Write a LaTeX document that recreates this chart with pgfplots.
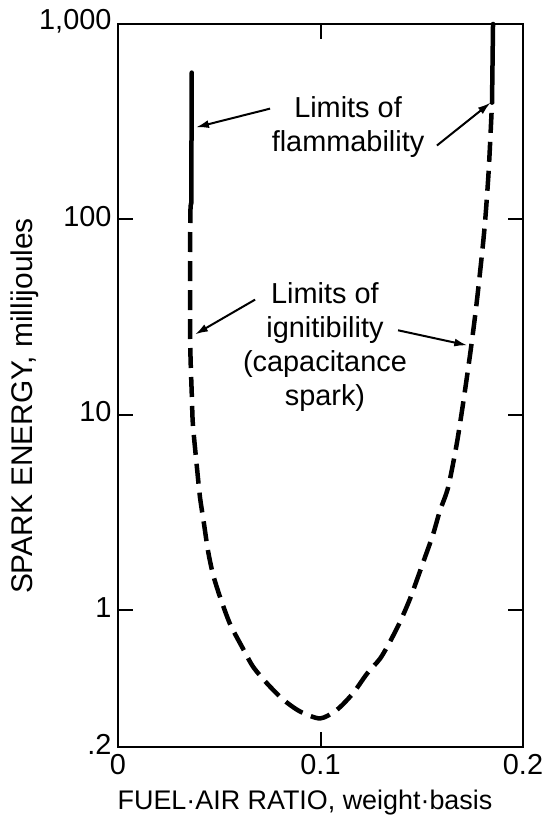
\documentclass[border=0pt]{standalone}
\usepackage{pgfplots}
\pgfplotsset{compat=1.18}
\usepackage{fontspec}
\setmainfont{Liberation Sans}
\usetikzlibrary{arrows.meta}
\newcommand{\bigf}{\fontsize{29}{34}\selectfont}
\begin{document}
\begin{tikzpicture}
\path[use as bounding box] (0,0) rectangle (548bp,824bp);
\begin{axis}[
  at={(118bp,77bp)}, anchor=south west,
  scale only axis, width=405bp, height=723bp,
  xmin=0, xmax=0.2, ymode=log, ymin=0.2, ymax=1000,
  xtick={0,0.1,0.2}, xticklabels={0,0.1,0.2},
  ytick={0.2,1,10,100,1000}, yticklabels={.2,1,10,100,{1,000}},
  yminorticks=false, xminorticks=false,
  tick align=inside, major tick length=15bp,
  every tick/.style={black, line width=2bp},
  axis line style={line width=2.5bp},
  tick label style={font=\fontsize{29}{30}\selectfont},
  xticklabel style={yshift=-4bp},
  yticklabel style={xshift=-3bp, yshift=3bp},
  xlabel={FUEL·AIR RATIO, weight·basis},
  ylabel={SPARK ENERGY, millijoules},
  xlabel style={font=\fontsize{27}{30}\selectfont, at={(rel axis cs:0.4617,-0.0775)}, anchor=center},
  ylabel style={font=\fontsize{30}{32}\selectfont, at={(rel axis cs:-0.2296,0.4716)}, anchor=center, rotate=0},
  clip=false,
]
% limits of flammability (solid)
\addplot[black, line width=4.5bp, line cap=round] coordinates {(0.0362,121) (0.0364,564)};
\addplot[black, line width=4.5bp, line cap=round] coordinates {(0.1847,396) (0.1852,1000)};
% limits of ignitibility (dashed)
\addplot[black, line width=4.5bp, dash pattern=on 20bp off 9bp, smooth, tension=0.45] coordinates {
(0.0362,121) (0.0357,102) (0.0356,25.5) (0.0365,12.2) (0.0370,8.9) (0.0390,5.37)
(0.0405,3.78) (0.0425,2.76) (0.0444,2.03) (0.0469,1.53) (0.0504,1.17) (0.0553,0.853)
(0.0612,0.652) (0.0667,0.515) (0.0736,0.423) (0.0815,0.350) (0.0899,0.304) (0.0998,0.280)
(0.1081,0.310) (0.1160,0.376) (0.1230,0.475) (0.1294,0.566) (0.1343,0.691) (0.1393,0.874)
(0.1442,1.146) (0.1481,1.48) (0.1516,1.87) (0.1556,2.45) (0.1590,3.24) (0.1630,4.25)
(0.1672,7.03) (0.1706,11.8) (0.1741,21.2) (0.1768,35.1) (0.1795,63.0) (0.1813,98.2)
(0.1831,181) (0.1847,396)
};
% annotations
\node[font=\bigf, align=center] at (axis cs:0.1136,296) {Limits of\\flammability};
\node[font=\bigf, align=center] at (axis cs:0.1022,22.2) {Limits of\\ignitibility\\(capacitance\\spark)};
\draw[line width=2bp, -{Latex[length=13bp,width=8bp]}] (axis cs:0.0751,369) -- (axis cs:0.0385,296);
\draw[line width=2bp, -{Latex[length=13bp,width=8bp]}] (axis cs:0.1575,239) -- (axis cs:0.1840,396);
\draw[line width=2bp, -{Latex[length=13bp,width=8bp]}] (axis cs:0.0677,38.9) -- (axis cs:0.0380,25.8);
\draw[line width=2bp, -{Latex[length=13bp,width=8bp]}] (axis cs:0.1383,27.1) -- (axis cs:0.1725,22.7);
\end{axis}
\end{tikzpicture}
\end{document}
